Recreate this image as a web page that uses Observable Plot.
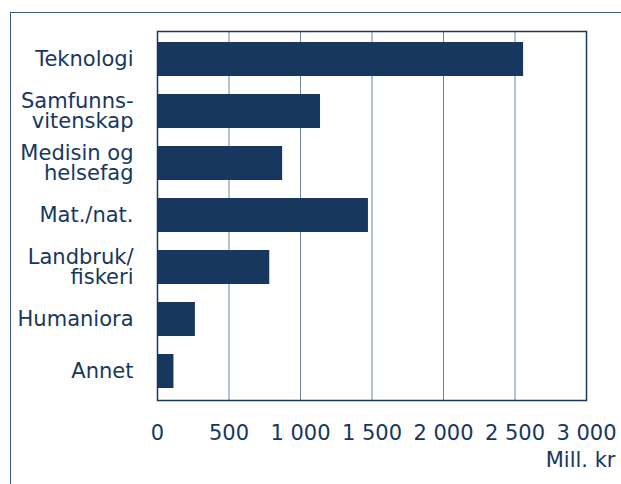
<!DOCTYPE html>
<html><head><meta charset="utf-8">
<script src="https://cdn.jsdelivr.net/npm/d3@7"></script>
<script src="https://cdn.jsdelivr.net/npm/@observablehq/plot@0.6"></script>
<style>
body{margin:0;background:#fff;}
#wrap{position:relative;width:621px;height:484px;overflow:hidden;}
#frame{position:absolute;left:10px;top:12px;right:-5px;bottom:-5px;border-left:1.5px solid #3b5a80;border-top:1.5px solid #3b5a80;}
#chart{position:absolute;left:0;top:0;}
</style></head><body>
<div id="wrap"><div id="frame"></div><div id="chart"></div></div>
<script>
const categories = ["Teknologi","Samfunns-\nvitenskap","Medisin og\nhelsefag","Mat./nat.","Landbruk/\nfiskeri","Humaniora","Annet"];
const values = [2560, 1140, 875, 1475, 785, 265, 115];
const xTicks = [0, 500, 1000, 1500, 2000, 2500, 3000];
const unitLabel = "Mill. kr";

const data = categories.map((c, i) => ({category: c, value: values[i]}));
const navy = "#17375e";
const fmt = d => d3.format(",")(d).replace(/,/g, " ");

const plot = Plot.plot({
  width: 621, height: 484,
  marginLeft: 157, marginRight: 35, marginTop: 31, marginBottom: 84,
  style: {fontFamily: "'DejaVu Sans', Verdana, sans-serif", fontSize: "21px", color: navy, background: "transparent"},
  x: {domain: [0, 3000]},
  y: {domain: categories, paddingInner: 0.34, paddingOuter: 0.16},
  marks: [
    Plot.gridX(xTicks, {stroke: "#6f84a3", strokeOpacity: 1, strokeWidth: 1}),
    Plot.barX(data, {y: "category", x: "value", fill: navy}),
    Plot.frame({stroke: navy, strokeWidth: 1.5}),
    Plot.axisX({ticks: xTicks, tickSize: 0, tickPadding: 25, tickFormat: fmt, label: null, fill: navy}),
    Plot.axisY({tickSize: 0, tickPadding: 24, label: null, fill: navy, lineHeight: 0.95}),
    Plot.text([unitLabel], {text: d => d, frameAnchor: "bottom-right", dx: 29, dy: 60, textAnchor: "end", lineAnchor: "middle", fill: navy})
  ]
});
document.getElementById("chart").appendChild(plot);
</script>
</body></html>
